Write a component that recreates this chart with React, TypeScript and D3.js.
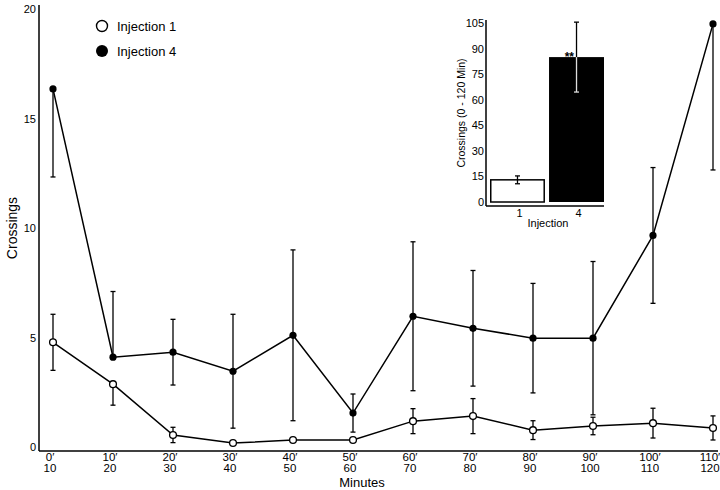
import React from "react";
import * as d3 from "d3";

const minutesStart = [0, 10, 20, 30, 40, 50, 60, 70, 80, 90, 100, 110];
const minutesEnd = [10, 20, 30, 40, 50, 60, 70, 80, 90, 100, 110, 120];
const inj1Mean = [4.78, 2.87, 0.55, 0.18, 0.32, 0.32, 1.18, 1.41, 0.77, 0.96, 1.09, 0.87];
const inj1Sem = [1.28, 0.96, 0.35, 0.08, 0.08, 0.08, 0.57, 0.8, 0.43, 0.4, 0.68, 0.55];
const inj1Dir = ["both", "down", "both", "both", "both", "both", "both", "both", "both", "both", "both", "both"];
const inj4Mean = [16.35, 4.1, 4.33, 3.46, 5.1, 1.55, 5.97, 5.42, 4.97, 4.97, 9.66, 19.32];
const inj4Sem = [4.02, 3.0, 1.5, 2.6, 3.9, 0.87, 3.4, 2.64, 2.5, 3.5, 3.1, 6.67];
const inj4Dir = ["down", "up", "both", "both", "both", "both", "both", "both", "both", "both", "both", "down"];
const yTicks = [0, 5, 10, 15, 20];

const insetCats = ["1", "4"];
const insetTotals = [13, 85];
const insetSem = [2.3, 20.5];
const insetTicks = [0, 15, 30, 45, 60, 75, 90, 105];

const FONT = "Liberation Sans, Arial, sans-serif";

export default function App() {
  const W = 720, H = 490;
  const x = d3.scaleLinear().domain([0, 11]).range([53, 713]);
  const y = d3.scaleLinear().domain([0, 20]).range([447, 9]);
  const idx = minutesStart.map((_, i) => i);
  const line1 = d3.line<number>().x((i) => x(i)).y((i) => y(inj1Mean[i]))(idx) as string;
  const line4 = d3.line<number>().x((i) => x(i)).y((i) => y(inj4Mean[i]))(idx) as string;

  const ix = d3.scaleBand().domain(insetCats).range([489, 605]).paddingInner(0.069).paddingOuter(0.017);
  const iy = d3.scaleLinear().domain([0, 105]).range([202, 23]);

  const errBars = (means: number[], sems: number[], dirs: string[], key: string) =>
    means.map((m, i) => {
      const cx = x(i);
      const top = dirs[i] === "down" ? m : m + sems[i];
      const bot = dirs[i] === "up" ? m : m - sems[i];
      return (
        <g key={key + i} stroke="#000" strokeWidth={1.3}>
          <line x1={cx} x2={cx} y1={y(top)} y2={y(bot)} />
          {dirs[i] !== "down" && <line x1={cx - 2.5} x2={cx + 2.5} y1={y(top)} y2={y(top)} />}
          {dirs[i] !== "up" && <line x1={cx - 2.5} x2={cx + 2.5} y1={y(bot)} y2={y(bot)} />}
        </g>
      );
    });

  return (
    <svg width={W} height={H} style={{ display: "block", position: "absolute", left: 0, top: 0 }} fontFamily={FONT}>
      <rect width={W} height={H} fill="#fff" />
      {/* axes */}
      <line x1={39} x2={39} y1={5} y2={451} stroke="#000" strokeWidth={1.5} />
      <line x1={39} x2={718} y1={451} y2={451} stroke="#000" strokeWidth={1.5} />
      {yTicks.map((t) => (
        <text key={"yt" + t} x={36} y={y(t) + 4} fontSize={11} textAnchor="end">{t}</text>
      ))}
      {minutesStart.map((m, i) => (
        <g key={"xt" + i}>
          <text x={x(i) - 3} y={461} fontSize={11.5} textAnchor="middle">{m}′</text>
          <text x={x(i) - 3} y={472} fontSize={11.5} textAnchor="middle">{minutesEnd[i]}</text>
        </g>
      ))}
      <text x={362} y={487} fontSize={13} textAnchor="middle">Minutes</text>
      <text transform="translate(17,228) rotate(-90)" fontSize={14} textAnchor="middle">Crossings</text>

      {/* error bars */}
      {errBars(inj4Mean, inj4Sem, inj4Dir, "e4")}
      {errBars(inj1Mean, inj1Sem, inj1Dir, "e1")}
      {/* lines */}
      <path d={line4} fill="none" stroke="#000" strokeWidth={1.5} />
      <path d={line1} fill="none" stroke="#000" strokeWidth={1.5} />
      {inj4Mean.map((m, i) => (
        <circle key={"p4" + i} cx={x(i)} cy={y(m)} r={3.6} fill="#000" />
      ))}
      {inj1Mean.map((m, i) => (
        <circle key={"p1" + i} cx={x(i)} cy={y(m)} r={3.4} fill="#fff" stroke="#000" strokeWidth={1.3} />
      ))}

      {/* legend */}
      <circle cx={102} cy={26} r={5.5} fill="#fff" stroke="#000" strokeWidth={1.4} />
      <text x={117} y={31} fontSize={13}>Injection 1</text>
      <circle cx={102} cy={51} r={6} fill="#000" />
      <text x={117} y={56} fontSize={13}>Injection 4</text>

      {/* inset */}
      <g>
        <rect x={480} y={15} width={130} height={195} fill="#fff" />
        {insetCats.map((c, i) => {
          const bx = ix(c) as number;
          const bw = ix.bandwidth();
          const black = i === 1;
          return (
            <rect key={"bar" + c} x={black ? bx : bx + 0.75} y={iy(insetTotals[i])} width={black ? bw : bw - 1.5}
              height={iy(0) - iy(insetTotals[i])} fill={black ? "#000" : "#fff"} stroke="#000" strokeWidth={black ? 0 : 1.5} />
          );
        })}
        {insetCats.map((c, i) => {
          const cx = (ix(c) as number) + ix.bandwidth() / 2;
          const m = insetTotals[i];
          const s = insetSem[i];
          const inner = i === 1 ? "#ddd" : "#000";
          return (
            <g key={"ie" + c} strokeWidth={1.3}>
              <line x1={cx} x2={cx} y1={iy(m + s)} y2={iy(m)} stroke="#000" />
              <line x1={cx - 2.5} x2={cx + 2.5} y1={iy(m + s)} y2={iy(m + s)} stroke="#000" />
              <line x1={cx} x2={cx} y1={iy(m)} y2={iy(m - s)} stroke={inner} />
              <line x1={cx - 2.5} x2={cx + 2.5} y1={iy(m - s)} y2={iy(m - s)} stroke={inner} />
            </g>
          );
        })}
        <line x1={486} x2={486} y1={20} y2={206} stroke="#000" strokeWidth={1.5} />
        <line x1={486} x2={604} y1={206} y2={206} stroke="#000" strokeWidth={1.5} />
        {insetTicks.map((t) => (
          <text key={"it" + t} x={484} y={iy(t) + 4} fontSize={11} textAnchor="end">{t}</text>
        ))}
        {insetCats.map((c) => (
          <text key={"ic" + c} x={(ix(c) as number) + ix.bandwidth() / 2 + 2} y={217} fontSize={11} textAnchor="middle">{c}</text>
        ))}
        <text x={548} y={227} fontSize={11} textAnchor="middle">Injection</text>
        <text transform="translate(465,113) rotate(-90)" fontSize={10.5} textAnchor="middle">Crossings (0 - 120 Min)</text>
        <text x={574} y={61} fontSize={12} fontWeight="bold" textAnchor="end">**</text>
      </g>
    </svg>
  );
}
